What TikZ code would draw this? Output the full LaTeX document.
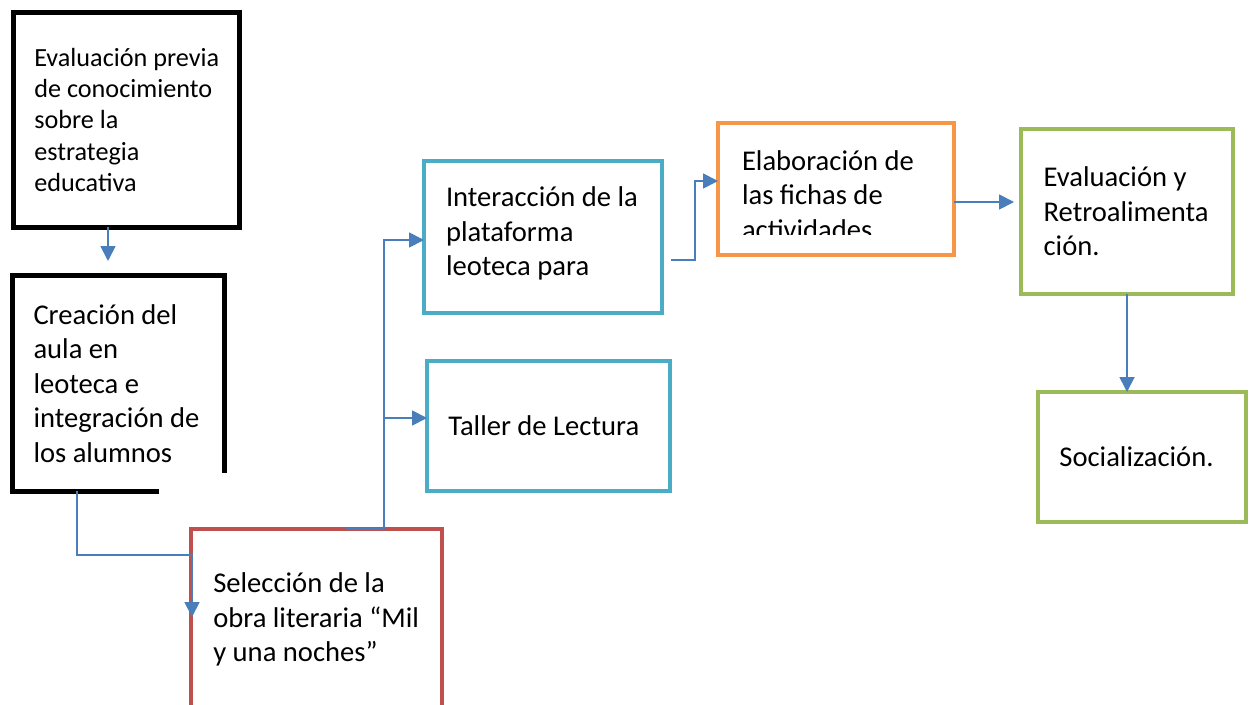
\documentclass[tikz,border=0pt]{standalone}
\usepackage{fontspec}
\setmainfont{Carlito}
\usetikzlibrary{arrows.meta,calc}
\definecolor{conncol}{HTML}{4A7EBB}
\definecolor{redc}{HTML}{C0504D}
\definecolor{cyanc}{HTML}{4BACC6}
\definecolor{orangec}{HTML}{F79646}
\definecolor{greenc}{HTML}{9BBB59}
\newcommand{\mystrut}{\rule{0pt}{24pt}}
\tikzset{
  boxnode/.style={rectangle, inner sep=0pt, outer sep=0pt, line width=4pt},
  txt/.style={anchor=north west, inner sep=0pt, outer sep=0pt, align=left,
    font=\fontsize{28.6}{34.5}\selectfont},
  conn/.style={draw=conncol, line width=1.8pt, -{Triangle[length=15pt,width=15pt]}},
}
\begin{document}
\begin{tikzpicture}[x=1pt,y=-1pt]
\useasboundingbox (0,0) rectangle (1249,704);
\clip (0,0) rectangle (1249,704);
\fill[white] (0,0) rectangle (1249,704);

% boxes
\node[boxnode, draw=black, line width=5pt, minimum width=226pt, minimum height=215pt] (b1) at (126,119.5) {};
\node[boxnode, minimum width=212pt, minimum height=216pt] (b2) at (118,383) {};
\draw[black, line width=5pt, line join=miter]
  ($(b2.south west)+(147,0)$) -- (b2.south west) -- (b2.north west) -- (b2.north east) -- ($(b2.south east)+(0,-18)$);
\node[boxnode, draw=redc, minimum width=251pt, minimum height=186pt] (red) at (316.5,622) {};
\node[boxnode, draw=cyanc, minimum width=238pt, minimum height=152pt] (int) at (543,237) {};
\node[boxnode, draw=cyanc, minimum width=243pt, minimum height=130pt] (tal) at (548.5,426) {};
\node[boxnode, draw=orangec, minimum width=236pt, minimum height=132pt] (ora) at (836,189) {};
\node[boxnode, draw=greenc, minimum width=212pt, minimum height=165pt] (grn) at (1127,211.5) {};
\node[boxnode, draw=greenc, minimum width=208pt, minimum height=130pt] (soc) at (1142,457) {};

% texts
\node[txt, font=\fontsize{26.2}{31.4}\selectfont] (t1) at (34.3,44) {\rule{0pt}{22pt}Evaluación previa\\de conocimiento\\sobre la\\estrategia\\educativa};
\node[txt] (t2) at (33.5,300) {\mystrut Creación del\\aula en\\leoteca e\\integración de\\los alumnos};
\node[txt] (tred) at (213.3,568.7) {\mystrut Selección de la\\obra literaria “Mil\\y una noches”};
\node[txt] (tint) at (446,182.7) {\mystrut Interacción de la\\plataforma\\leoteca para};
\node[txt] (ttal) at (448.3,411) {\mystrut Taller de Lectura};
\begin{scope}
  \clip (700,100) rectangle (960,234);
  \node[txt] (tora) at (742,146) {\mystrut Elaboración de\\las fichas de\\actividades};
\end{scope}
\node[txt] (tgrn) at (1043.6,162.7) {\mystrut Evaluación y\\Retroalimenta\\ción.};
\node[txt] (tsoc) at (1059.4,442.7) {\mystrut Socialización.};

% connectors
\draw[conn] ($(b1.south west)+(95,0)$) -- ($(b2.north west)+(96,-14)$);
\draw[conn] ($(b2.south west)+(65,0)$) -- ++(0,64) -| ($(red.north west)+(1,88)$);
\draw[conn] ($(red.north west)+(155,0)$) -- ($(red.north west)+(193,0)$) |- ($(int.west)+(0,3)$);
\coordinate (trunk) at ($(red.north west)+(193,-111)$);
\draw[conn] (trunk) -- (trunk -| tal.west);
\draw[conn] ($(int.east)+(9,23)$) -- ++(24,0) |- ($(ora.west)+(0,-8)$);
\draw[conn, shorten >=7pt] ($(ora.east)+(0,13)$) -- ($(grn.west)+(0,-9.5)$);
\draw[conn] (grn.south) -- (soc.north -| grn.south);
\end{tikzpicture}
\end{document}
